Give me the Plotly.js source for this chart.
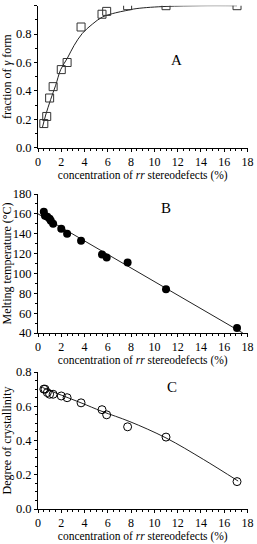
<!DOCTYPE html>
<html>
<head>
<meta charset="utf-8">
<script src="https://cdn.plot.ly/plotly-3.0.1.min.js"></script>
<style>html,body{margin:0;padding:0;background:#fff;}#chart{width:257px;height:544px;}</style>
</head>
<body>
<div id="chart"></div>
<script>
// Panel A: fraction of gamma form
const xA = [0.5, 0.75, 1.0, 1.3, 2.0, 2.5, 3.7, 5.5, 5.9, 7.7, 11.0, 17.1];
const yA = [0.17, 0.22, 0.35, 0.43, 0.55, 0.60, 0.85, 0.94, 0.96, 1.0, 1.0, 1.0];
const fitAx = [0.37, 0.66, 1.09, 1.52, 1.95, 2.52, 3.1, 3.81, 4.67, 5.53, 6.67, 7.53, 8.5, 11.0, 14.0, 17.1];
const fitAy = [0.14, 0.23, 0.34, 0.44, 0.55, 0.63, 0.72, 0.805, 0.87, 0.92, 0.95, 0.965, 0.98, 0.995, 1.0, 1.0];

// Panel B: melting temperature
const xB = [0.5, 0.6, 0.8, 1.0, 1.1, 1.3, 2.0, 2.5, 3.7, 5.5, 5.9, 7.7, 11.0, 17.1];
const yB = [162, 158, 157, 155, 153, 150, 145, 140, 133, 119, 116, 111, 84, 45];
const fitBx = [0, 17.6];
const fitBy = [160, 40];

// Panel C: degree of crystallinity
const xC = [0.5, 0.6, 0.8, 1.0, 1.3, 2.0, 2.5, 3.7, 5.5, 5.9, 7.7, 11.0, 17.1];
const yC = [0.70, 0.70, 0.68, 0.67, 0.67, 0.66, 0.65, 0.62, 0.58, 0.55, 0.48, 0.42, 0.16];
const fitCx = [0.37, 2.0, 3.7, 5.5, 7.9, 11.0, 14.2, 17.2];
const fitCy = [0.71, 0.665, 0.62, 0.57, 0.51, 0.415, 0.29, 0.163];

const xTickVals = [0, 2, 4, 6, 8, 10, 12, 14, 16, 18];
const panelLabels = ['A', 'B', 'C'];
const xTitle = 'concentration of <i>rr</i> stereodefects (%)';
const yTitles = ['fraction of <i>γ</i> form', 'Melting temperature (°C)', 'Degree of crystallinity'];

const FONT = 'Liberation Serif';
const lineStyle = {color: '#222', width: 1};

const traces = [
  {x: fitAx, y: fitAy, mode: 'lines', line: Object.assign({shape: 'spline'}, lineStyle), xaxis: 'x', yaxis: 'y', hoverinfo: 'skip'},
  {x: xA, y: yA, mode: 'markers', marker: {symbol: 'square-open', size: 8, color: '#333', line: {width: 1}}, xaxis: 'x', yaxis: 'y'},
  {x: fitBx, y: fitBy, mode: 'lines', line: lineStyle, xaxis: 'x2', yaxis: 'y2', hoverinfo: 'skip'},
  {x: xB, y: yB, mode: 'markers', marker: {symbol: 'circle', size: 8, color: '#000'}, xaxis: 'x2', yaxis: 'y2'},
  {x: fitCx, y: fitCy, mode: 'lines', line: Object.assign({shape: 'spline'}, lineStyle), xaxis: 'x3', yaxis: 'y3', hoverinfo: 'skip'},
  {x: xC, y: yC, mode: 'markers', marker: {symbol: 'circle-open', size: 8, color: '#000', line: {width: 1}}, xaxis: 'x3', yaxis: 'y3'}
];

function xAxis(anchor) {
  return {
    domain: [38/257, 247.5/257], range: [0, 18], anchor: anchor,
    tickvals: xTickVals, ticks: 'outside', ticklen: 3, tickwidth: 1, tickcolor: '#000',
    minor: {dtick: 0.5, ticks: 'outside', ticklen: 2, tickcolor: '#000'},
    showline: true, linecolor: '#000', linewidth: 1, showgrid: false, zeroline: false,
    tickfont: {family: FONT, size: 12, color: '#000'},
    title: {text: xTitle, font: {family: FONT, size: 11.5, color: '#000'}, standoff: 1},
    automargin: false
  };
}
function yAxis(anchor, dom, rng, dt, minorDt, fmt, title) {
  return {
    domain: dom, range: rng, anchor: anchor, dtick: dt, tick0: 0, tickformat: fmt,
    ticks: 'outside', ticklen: 3, tickwidth: 1, tickcolor: '#000',
    minor: {dtick: minorDt, ticks: 'outside', ticklen: 2, tickcolor: '#000'},
    showline: true, linecolor: '#000', linewidth: 1, showgrid: false, zeroline: false,
    tickfont: {family: FONT, size: 12.5, color: '#000'},
    title: {text: title, font: {family: FONT, size: 12, color: '#000'}, standoff: 4},
    automargin: false
  };
}

const H = 544;
const annFont = {family: FONT, size: 15, color: '#000'};
const layout = {
  width: 257, height: H,
  margin: {l: 0, r: 0, t: 0, b: 0},
  paper_bgcolor: '#fff', plot_bgcolor: '#fff',
  showlegend: false,
  font: {family: FONT, color: '#000'},
  xaxis: xAxis('y'),
  xaxis2: xAxis('y2'),
  xaxis3: xAxis('y3'),
  yaxis: yAxis('x', [1 - 147.7/H, 1 - 5.7/H], [0, 1.0], 0.2, 0.1, '.1f', yTitles[0]),
  yaxis2: yAxis('x2', [1 - 333/H, 1 - 194/H], [40, 180], 20, 10, 'd', yTitles[1]),
  yaxis3: yAxis('x3', [1 - 509/H, 1 - 372/H], [0, 0.8], 0.2, 0.05, '.1f', yTitles[2]),
  annotations: [
    {text: panelLabels[0], x: 11.9, y: 0.62, xref: 'x', yref: 'y', showarrow: false, font: annFont},
    {text: panelLabels[1], x: 11.0, y: 166, xref: 'x2', yref: 'y2', showarrow: false, font: annFont},
    {text: panelLabels[2], x: 11.5, y: 0.71, xref: 'x3', yref: 'y3', showarrow: false, font: annFont}
  ]
};

Plotly.newPlot('chart', traces, layout, {displayModeBar: false, staticPlot: true});
</script>
</body>
</html>
